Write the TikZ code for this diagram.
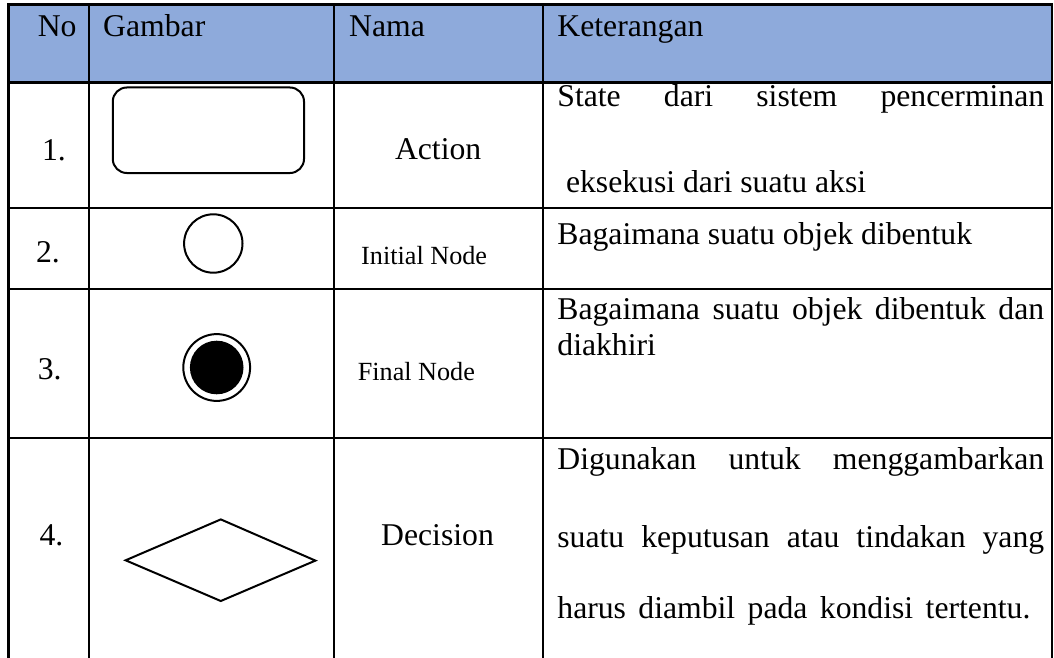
\documentclass[tikz,border=0pt]{standalone}
\usepackage{fontspec}
\setmainfont{Liberation Serif}
\definecolor{hdrblue}{HTML}{8EAADB}
\begin{document}
\begin{tikzpicture}[x=1pt,y=-1pt,
  grid/.style={line width=2.2pt,black},
  shp/.style={line width=2pt,black},
  txt/.style={anchor=base west,inner sep=0pt,outer sep=0pt,font=\fontsize{31.7}{38}\selectfont},
  smalltxt/.style={anchor=base west,inner sep=0pt,outer sep=0pt,font=\fontsize{26.2}{31}\selectfont}]
\useasboundingbox (0,0) rectangle (1054,658);
% header fill
\fill[hdrblue] (8.5,4.5) rectangle (1052,82.5);
% horizontal rules
\foreach \yy in {4.5,82.5,208,289,438}{\draw[grid] (7.4,\yy) -- (1053.1,\yy);}
% vertical rules
\foreach \xx in {8.5,88.7,334.3,542.8,1052}{\draw[grid] (\xx,3.4) -- (\xx,658);}
% header texts
\node[txt] (hno) at (37.8,36.5) {No};
\node[txt] (hgb) at (103.2,36.5) {Gambar};
\node[txt] (hnm) at (349.2,36.5) {Nama};
\node[txt] (hkt) at (557.4,36.5) {Keterangan};
% row 1
\node[txt] (n1) at (42,160) {1.};
\draw[shp,rounded corners=14pt] (112.8,87.5) rectangle (304,173);
\node[txt] (a1) at (395,159.5) {Action};
\node[txt] (k1a) at (557.4,106.5) {\makebox[486.8pt][s]{State dari sistem pencerminan}};
\node[txt] (k1b) at (566,192) {eksekusi dari suatu aksi};
% row 2
\node[txt] (n2) at (36,262) {2.};
\draw[shp] (213.3,243.5) circle (29.2);
\node[smalltxt] (a2) at (361.2,264) {Initial Node};
\node[txt] (k2) at (557.4,244) {Bagaimana suatu objek dibentuk};
% row 3
\node[txt] (n3) at (37.8,379) {3.};
\draw[shp] (216.7,367.5) circle (33.4);
\fill[black] (216.7,367.5) circle (26.8);
\node[smalltxt] (a3) at (357.8,380) {Final Node};
\node[txt] (k3a) at (557.4,319) {\makebox[486.8pt][s]{Bagaimana suatu objek dibentuk dan}};
\node[txt] (k3b) at (557.4,355) {diakhiri};
% row 4
\node[txt] (n4) at (39.6,545) {4.};
\draw[shp,line join=miter] (125.6,560.3) -- (220.8,519.4) -- (315.4,560.6) -- (220.8,601) -- cycle;
\node[txt] (a4) at (381.2,545) {Decision};
\node[txt] (k4a) at (557.4,469) {\makebox[486.8pt][s]{Digunakan untuk menggambarkan}};
\node[txt] (k4b) at (557.4,547) {\makebox[486.8pt][s]{suatu keputusan atau tindakan yang}};
\node[txt] (k4c) at (557.4,618) {\makebox[473pt][s]{harus diambil pada kondisi tertentu.}};
\end{tikzpicture}
\end{document}
